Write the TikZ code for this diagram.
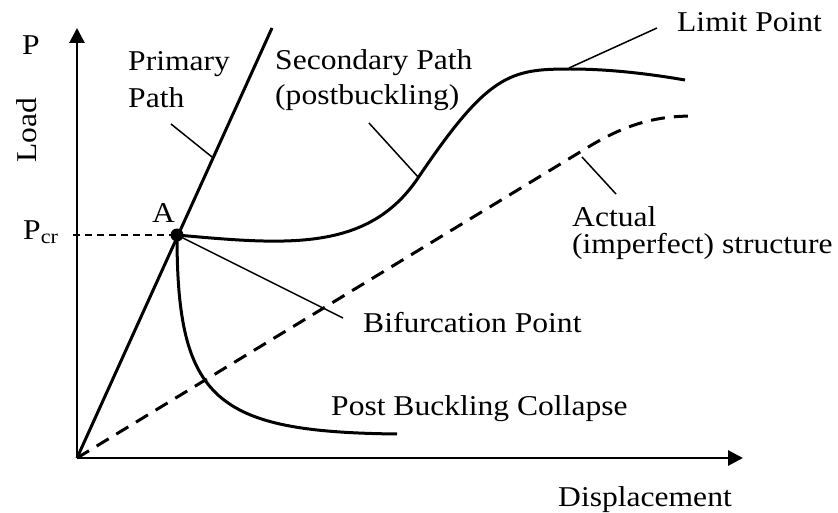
\documentclass[tikz,border=0pt]{standalone}
\usepackage{fontspec}
\setmainfont{Liberation Serif}[FakeStretch=1.1]
\usetikzlibrary{arrows.meta,positioning}

\begin{document}
\begin{tikzpicture}[x=1pt,y=-1pt,
  every node/.style={font=\fontsize{28.7}{34}\selectfont,inner sep=0pt,anchor=base west},
  curve/.style={line width=3pt,line join=round},
  leader/.style={line width=1.5pt},
  axis/.style={line width=2.8pt,-{Triangle[length=15pt,width=15pt]}}]
  \useasboundingbox (0,0) rectangle (838,513);
  % key points
  \coordinate (O) at (77,458);
  \coordinate (A) at (177,235);
  \coordinate (ytip) at (77,28);
  \coordinate (xtip) at (743,458);
  \coordinate (primtop) at (272,28);
  \coordinate (pcrL) at (73,235);
  \coordinate (infl) at (418,178);
  \coordinate (limpt) at (570,69);
  % axes
  \draw[axis] (O) -- (ytip);
  \draw[axis] (O) -- (xtip);
  % load paths
  \draw[curve] (O) -- (primtop);
  \draw[line width=1.4pt,dash pattern=on 7pt off 5pt] (pcrL) -- (A);
  \draw[curve] (A) .. controls (287,245) and (368,252) .. (infl)
    .. controls (488,74) and (510,69) .. (limpt)
    .. controls (610,69) and (650,74) .. (685,80);
  \draw[curve] (A) .. controls (177,400) and (215,432) .. (397,434);
  \draw[curve,dash pattern=on 14pt off 9pt] (O) -- (590,146) .. controls (630,122) and (660,116) .. (694,116);
  \fill (A) circle (6.5pt);
  % labels
  \node (Plbl) at (22,55) {P};
  \node[rotate=90] (load) at (36,163) {Load};
  \node (pcr) at (23,240) {P\textsubscript{cr}};
  \node (Albl) at (152,223) {A};
  \node (prim1) at (128,71) {Primary};
  \node (prim2) at ([yshift=-37pt]prim1.base west) {Path};
  \node (sec1) at (275,70) {Secondary Path};
  \node (sec2) at ([yshift=-35pt]sec1.base west) {(postbuckling)};
  \node (limit) at (677,32) {Limit Point};
  \node (act1) at (572,227) {Actual};
  \node (act2) at ([yshift=-27pt]act1.base west) {(imperfect) structure};
  \node (bif) at (363,332) {Bifurcation Point};
  \node (post) at (331,415) {Post Buckling Collapse};
  \node (disp) at (558,506) {Displacement};
  % leaders
  \coordinate (primA) at (171,124); \coordinate (primB) at (212,157);
  \coordinate (secA) at (369,123);  \coordinate (secB) at (419,178);
  \coordinate (limA) at (569,68);   \coordinate (limB) at (657,28);
  \coordinate (actA) at (582,157);  \coordinate (actB) at (616,194);
  \coordinate (bifB) at (343,318);
  \draw[leader] (primA) -- (primB);
  \draw[leader] (secA) -- (secB);
  \draw[leader] (limA) -- (limB);
  \draw[leader] (actA) -- (actB);
  \draw[leader] (A) -- (bifB);
\end{tikzpicture}
\end{document}
